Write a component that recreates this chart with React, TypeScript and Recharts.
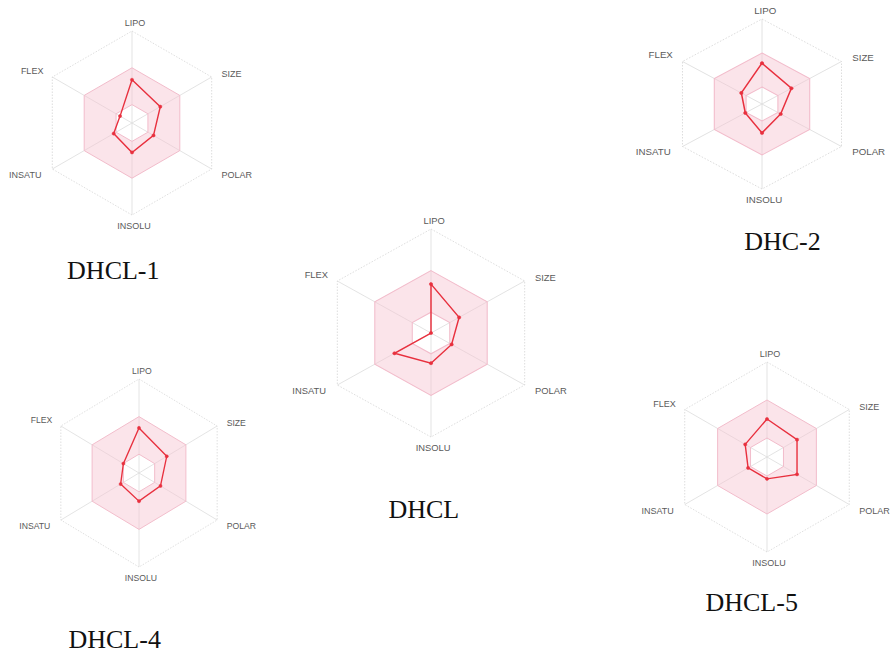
import React from "react";
import {
  RadarChart,
  Radar,
  PolarGrid,
  PolarAngleAxis,
  PolarRadiusAxis,
} from "recharts";

// Bioavailability radar axes (clockwise from the top)
const AXES = ["LIPO", "SIZE", "POLAR", "INSOLU", "INSATU", "FLEX"];

// Pink optimal zone, as [inner, outer] on the 0..1 scale
const OPTIMAL_RANGE = [
  [0.2, 0.6],
  [0.2, 0.6],
  [0.2, 0.6],
  [0.2, 0.6],
  [0.2, 0.6],
  [0.2, 0.6],
];

// Compound values (0..1 of the radius)
const DHCL_1 = [0.47, 0.355, 0.27, 0.32, 0.23, 0.15];
const DHCL = [0.47, 0.3, 0.22, 0.29, 0.39, 0];
const DHC_2 = [0.48, 0.37, 0.235, 0.34, 0.21, 0.26];
const DHCL_4 = [0.48, 0.355, 0.275, 0.3, 0.235, 0.2];
const DHCL_5 = [0.4, 0.365, 0.365, 0.23, 0.23, 0.265];

const RED = "#e8303e";

const buildRows = (values: number[]) =>
  AXES.map((axis, i) => ({ axis, optimal: OPTIMAL_RANGE[i], value: values[i] }));

// label placement around each vertex
const LABEL_POS: Record<string, { dx: number; dy: number; anchor: string }> = {
  LIPO: { dx: 3, dy: 3, anchor: "middle" },
  SIZE: { dx: 3, dy: 1, anchor: "start" },
  POLAR: { dx: 3, dy: 2, anchor: "start" },
  INSOLU: { dx: 2, dy: 3, anchor: "middle" },
  INSATU: { dx: -4, dy: 2, anchor: "end" },
  FLEX: { dx: -2, dy: -2, anchor: "end" },
};

const AxisLabel = (props: any) => {
  const { x, y, payload } = props;
  const pos = LABEL_POS[payload.value] || { dx: 0, dy: 0, anchor: "middle" };
  return (
    <text
      x={x + pos.dx}
      y={y + pos.dy}
      textAnchor={pos.anchor}
      dominantBaseline={payload.value === "LIPO" ? "auto" : "central"}
      fontSize={9}
      fontFamily="Liberation Sans, Arial, sans-serif"
      fill="#5a5a5a"
    >
      {payload.value}
    </text>
  );
};

type BioRadarProps = {
  title: string;
  values: number[];
  cx: number;
  cy: number;
  r: number;
  stretch: number;
  titleX: number;
  titleY: number;
};

function BioRadar({ title, values, cx, cy, r, stretch, titleX, titleY }: BioRadarProps) {
  const W = 280;
  const H = 250;
  const data = buildRows(values);

  return (
    <>
      <div
        style={{
          position: "absolute",
          left: cx - W / 2,
          top: cy - H / 2,
          width: W,
          height: H,
          transform: `scaleX(${stretch})`,
        }}
      >
        <RadarChart
          width={W}
          height={H}
          data={data}
          cx={W / 2}
          cy={H / 2}
          outerRadius={r}
          margin={{ top: 0, right: 0, bottom: 0, left: 0 }}
        >
          <PolarGrid gridType="polygon" polarRadius={[]} stroke="#dcdcdc" strokeWidth={0.8} />
          <PolarGrid
            gridType="polygon"
            radialLines={false}
            stroke="#d6d6d6"
            strokeWidth={0.8}
            strokeDasharray="1.5 1.5"
          />
          <PolarAngleAxis dataKey="axis" axisLine={false} tickLine={false} tick={<AxisLabel />} />
          <PolarRadiusAxis domain={[0, 1]} tickCount={6} tick={false} axisLine={false} />
          <Radar
            dataKey="optimal"
            fill="#f7c3d0"
            fillOpacity={0.45}
            stroke="#f2bccb"
            strokeWidth={1}
            isAnimationActive={false}
          />
          <Radar
            dataKey="value"
            fill="none"
            stroke={RED}
            strokeWidth={1.4}
            dot={{ r: 1.6, fill: RED, stroke: RED, strokeWidth: 0.5 }}
            isAnimationActive={false}
          />
        </RadarChart>
      </div>
      <div
        style={{
          position: "absolute",
          left: titleX - 100,
          top: titleY - 18.8,
          width: 200,
          textAlign: "center",
          fontFamily: "'Liberation Serif', 'Times New Roman', serif",
          fontSize: 26,
          lineHeight: "20px",
          color: "#111",
        }}
      >
        {title}
      </div>
    </>
  );
}

export default function App() {
  return (
    <div
      style={{
        position: "absolute",
        left: 0,
        top: 0,
        width: 890,
        height: 655,
        background: "#fff",
        overflow: "hidden",
      }}
    >
      <BioRadar title="DHCL-1" values={DHCL_1} cx={131.7} cy={123.3} r={92} stretch={1} titleX={113.3} titleY={280} />
      <BioRadar title="DHCL" values={DHCL} cx={431} cy={332.7} r={104} stretch={1.04} titleX={423.8} titleY={519} />
      <BioRadar title="DHC-2" values={DHC_2} cx={762.3} cy={104} r={85} stretch={1.08} titleX={782.5} titleY={251} />
      <BioRadar title="DHCL-4" values={DHCL_4} cx={139.3} cy={473.3} r={94} stretch={0.96} titleX={114.7} titleY={649} />
      <BioRadar title="DHCL-5" values={DHCL_5} cx={766.7} cy={456.7} r={95} stretch={1.0} titleX={751.7} titleY={612} />
    </div>
  );
}
